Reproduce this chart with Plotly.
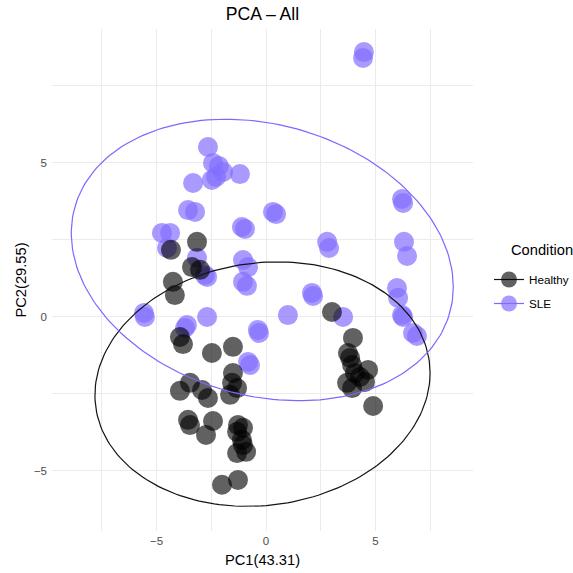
import numpy as np
import plotly.graph_objects as go

# PCA scores (PC1, PC2) per sample
healthy_pc1 = [-3.15, -4.34, -3.38, -3.01, -4.25, -4.16, -3.93, -3.79, -2.47, -1.51,
               -3.47, -3.93, -2.92, -2.65, -1.51, -1.55, -1.32, -1.64, -3.56, -3.47,
               -2.42, -2.74, -1.28, -1.05, -1.32, -1.10, -1.05, -0.91, -1.32, -2.01,
               -1.28, 3.01, 3.97, 3.74, 3.84, 3.93, 4.66, 4.06, 4.29, 3.70,
               3.93, 4.52, 4.89]
healthy_pc2 = [2.44, 2.18, 1.62, 1.53, 1.14, 0.71, -0.65, -0.88, -1.17, -0.97,
               -2.14, -2.40, -2.37, -2.63, -1.82, -2.14, -2.31, -2.53, -3.34, -3.51,
               -3.38, -3.83, -3.51, -3.60, -3.73, -3.99, -4.16, -4.38, -4.42, -5.45,
               -5.29, 0.16, -0.68, -1.17, -1.33, -1.56, -1.72, -1.82, -1.95, -2.14,
               -2.31, -2.11, -2.89]

sle_pc1 = [4.47, 4.43, -2.65, -2.42, -2.15, -1.96, -2.47, -2.28, -1.19, -3.33,
           -3.56, -3.24, 0.32, 0.46, -4.75, -4.38, -1.10, -0.96, -4.52, -3.15,
           -2.79, -2.69, -1.05, -0.82, -1.05, -0.87, -5.57, -5.53, -2.69, -3.61,
           -3.70, -0.37, -0.32, -0.82, -0.73, 1.00, 2.79, 2.88, 2.10, 2.15,
           3.52, 6.21, 6.26, 6.30, 6.44, 5.98, 6.03, 6.21, 6.26, 6.71, 6.89]
sle_pc2 = [8.60, 8.41, 5.52, 5.00, 4.90, 4.71, 4.45, 4.55, 4.64, 4.35,
           3.47, 3.41, 3.41, 3.34, 2.73, 2.73, 2.92, 2.86, 2.24, 1.92,
           1.36, 1.30, 1.85, 1.62, 1.14, 1.01, 0.13, 0.00, 0.00, -0.26,
           -0.36, -0.42, -0.52, -1.46, -1.56, 0.06, 2.44, 2.24, 0.78, 0.68,
           0.00, 3.83, 3.70, 2.44, 1.98, 0.94, 0.62, 0.06, 0.00, -0.52, -0.62]

# Confidence ellipses per group: centre and spread matrix
healthy_centre = (-0.16, -2.18)
healthy_spread = [[7.65 ** 2, 2.75], [2.75, 3.97 ** 2]]
sle_centre = (-0.17, 1.85)
sle_spread = [[8.72 ** 2, -7.6], [-7.6, 4.57 ** 2]]

groups = ["Healthy", "SLE"]
colors = {"Healthy": "rgb(0,0,0)", "SLE": "rgb(131,111,255)"}
line_colors = {"Healthy": "rgb(20,20,20)", "SLE": "rgb(123,104,255)"}
alphas = {"Healthy": 0.62, "SLE": 0.70}

FONT = "Liberation Sans, Arial, Helvetica, sans-serif"

# plot panel in pixels (left, right, top, bottom)
PANEL = (52, 473, 29, 531)


def ellipse_path(centre, spread, n=200):
    t = np.linspace(0, 2 * np.pi, n)
    m = np.linalg.cholesky(np.array(spread))
    pts = m @ np.vstack([np.cos(t), np.sin(t)])
    return centre[0] + pts[0], centre[1] + pts[1]


def px_to_paper(px, py):
    l, r, t, b = PANEL
    return (px - l) / (r - l), (b - py) / (b - t)


fig = go.Figure()

points = {"Healthy": (healthy_pc1, healthy_pc2), "SLE": (sle_pc1, sle_pc2)}
for g in ["SLE", "Healthy"]:
    xs, ys = points[g]
    fig.add_trace(go.Scatter(
        x=xs, y=ys, mode="markers", name=g, showlegend=False,
        marker=dict(size=20, color=colors[g], opacity=alphas[g], line=dict(width=0)),
    ))

ellipses = {"Healthy": (healthy_centre, healthy_spread), "SLE": (sle_centre, sle_spread)}
for g in groups:
    ex, ey = ellipse_path(*ellipses[g])
    fig.add_trace(go.Scatter(
        x=ex, y=ey, mode="lines", showlegend=False, hoverinfo="skip",
        line=dict(color=line_colors[g], width=1.2),
    ))

# legend keys: point with the ellipse line through it
for g in groups:
    fig.add_trace(go.Scatter(
        x=[None], y=[None], mode="lines+markers", name=g, legendgroup=g,
        marker=dict(size=20, color=colors[g], opacity=alphas[g]),
        line=dict(color=line_colors[g], width=1.2),
    ))

grid = "#ebebeb"
axis_common = dict(
    showline=False, zeroline=False, ticks="", showgrid=True,
    gridcolor=grid, gridwidth=1.1,
    tickfont=dict(family=FONT, size=11.5, color="#4d4d4d"),
    title_font=dict(family=FONT, size=14.7, color="#000000"),
    minor=dict(showgrid=True, gridcolor=grid, gridwidth=0.55),
)

lx, ly = px_to_paper(489, 265)
tx, ty = px_to_paper(509, 250)

fig.update_layout(
    width=573, height=573,
    margin=dict(l=PANEL[0], r=573 - PANEL[1], t=PANEL[2], b=573 - PANEL[3], autoexpand=False),
    paper_bgcolor="white", plot_bgcolor="white",
    title=dict(text="PCA – All", x=(PANEL[0] + PANEL[1]) / 2 / 573, xanchor="center",
               y=1 - 14 / 573, yanchor="middle", yref="container",
               font=dict(family=FONT, size=17.6, color="#000000")),
    xaxis=dict(range=[-9.77, 9.45], dtick=5, tick0=0, ticklabelstandoff=1,
               title=dict(text="PC1(43.31)", standoff=9), **axis_common),
    yaxis=dict(range=[-6.95, 9.35], dtick=5, tick0=0, ticklabelstandoff=4,
               title=dict(text="PC2(29.55)", standoff=3), **axis_common),
    legend=dict(
        x=lx, xanchor="left", y=ly, yanchor="top",
        font=dict(family=FONT, size=11.7, color="#000000"),
        itemsizing="trace", tracegroupgap=5, bgcolor="rgba(0,0,0,0)",
    ),
    annotations=[dict(
        text="Condition", xref="paper", yref="paper", x=tx, y=ty,
        xanchor="left", yanchor="middle", showarrow=False,
        font=dict(family=FONT, size=14.7, color="#000000"),
    )],
    showlegend=True,
)
fig.update_xaxes(minor_dtick=2.5)
fig.update_yaxes(minor_dtick=2.5)

fig.write_html("out.html")
